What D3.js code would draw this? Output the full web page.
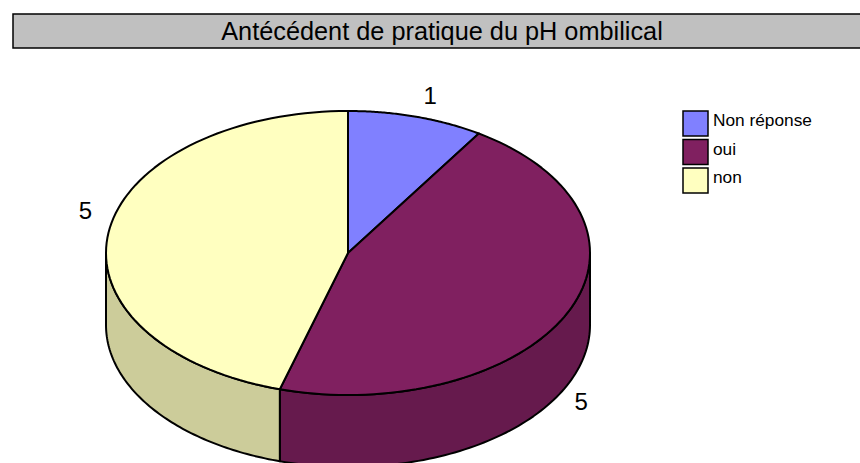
<!DOCTYPE html>
<html>
<head>
<meta charset="utf-8">
<script src="https://cdn.jsdelivr.net/npm/d3@7"></script>
<style>
html,body{margin:0;padding:0;background:#fff;overflow:hidden}
text{font-family:"Liberation Sans",Arial,sans-serif;fill:#000}
</style>
</head>
<body>
<div id="chart"></div>
<script>
"use strict";

var title_text="Antécédent de pratique du pH ombilical";
var categories=["Non réponse","oui","non"];
var values=[1,5,5];
var top_colors=["#8080ff","#802060","#ffffc0"];
var side_colors=["#6666cc","#661a4d","#cccc9a"];

var w=860, h=463;
var cx=348, cy=253, rx=242, ry=142, depth=72;

var svg=d3.select("#chart")
    .append("svg")
    .attr("width",w)
    .attr("height",h)
    .style("display","block");

// title box, runs off the right edge like the original
svg.append("rect")
    .attr("x",13)
    .attr("y",14)
    .attr("width",860)
    .attr("height",34)
    .attr("fill","#c0c0c0")
    .attr("stroke","#000")
    .attr("stroke-width",1.5);

svg.append("text")
    .attr("x",442)
    .attr("y",40)
    .attr("text-anchor","middle")
    .attr("font-size",25.3)
    .text(title_text);

var pie=d3.pie().sort(null);
var slices=pie(values);

// angle is clockwise from 12 o'clock, as d3.pie gives it
function px(a){ return cx+rx*Math.sin(a); }
function py(a){ return cy-ry*Math.cos(a); }

function top_path(d){
    var p=d3.path();
    p.moveTo(cx,cy);
    p.lineTo(px(d.startAngle),py(d.startAngle));
    var n=80;
    for(var i=1;i<=n;i++){
        var a=d.startAngle+(d.endAngle-d.startAngle)*i/n;
        p.lineTo(px(a),py(a));
    }
    p.closePath();
    return p.toString();
}

// only the front half of the pie has a visible wall
function side_path(d){
    var a0=Math.max(d.startAngle,Math.PI/2);
    var a1=Math.min(d.endAngle,Math.PI*1.5);
    if(a1<=a0) return null;
    var p=d3.path();
    var n=80, i, a;
    p.moveTo(px(a0),py(a0));
    for(i=1;i<=n;i++){
        a=a0+(a1-a0)*i/n;
        p.lineTo(px(a),py(a));
    }
    for(i=n;i>=0;i--){
        a=a0+(a1-a0)*i/n;
        p.lineTo(px(a),py(a)+depth);
    }
    p.closePath();
    return p.toString();
}

svg.selectAll("path.side")
    .data(slices.filter(function(d){ return side_path(d)!==null; }))
    .enter()
    .append("path")
    .attr("class","side")
    .attr("d",side_path)
    .attr("fill",function(d){ return side_colors[d.index]; })
    .attr("stroke","#000")
    .attr("stroke-width",2)
    .attr("stroke-linejoin","round");

svg.selectAll("path.top")
    .data(slices)
    .enter()
    .append("path")
    .attr("class","top")
    .attr("d",top_path)
    .attr("fill",function(d){ return top_colors[d.index]; })
    .attr("stroke","#000")
    .attr("stroke-width",2)
    .attr("stroke-linejoin","round");

// value labels, offset from the rim point at each slice's middle angle
var label_dx=[14,13,-23];
var label_dy=[-13,98,-14];
svg.selectAll("text.value")
    .data(slices)
    .enter()
    .append("text")
    .attr("class","value")
    .attr("text-anchor","middle")
    .attr("font-size",24)
    .attr("x",function(d){ return px((d.startAngle+d.endAngle)/2)+label_dx[d.index]; })
    .attr("y",function(d){ return py((d.startAngle+d.endAngle)/2)+label_dy[d.index]; })
    .text(function(d){ return d.value; });

// legend
var legend_y=d3.scalePoint()
    .domain(categories)
    .range([111,168]);

var legend=svg.selectAll("g.legend")
    .data(categories)
    .enter()
    .append("g")
    .attr("class","legend")
    .attr("transform",function(d){ return "translate(683,"+legend_y(d)+")"; });

legend.append("rect")
    .attr("x",0)
    .attr("y",0)
    .attr("width",25)
    .attr("height",25)
    .attr("fill",function(d,i){ return top_colors[i]; })
    .attr("stroke","#000")
    .attr("stroke-width",1.5);

legend.append("text")
    .attr("x",30)
    .attr("y",15)
    .attr("font-size",17.3)
    .text(function(d){ return d; });
</script>
</body>
</html>
